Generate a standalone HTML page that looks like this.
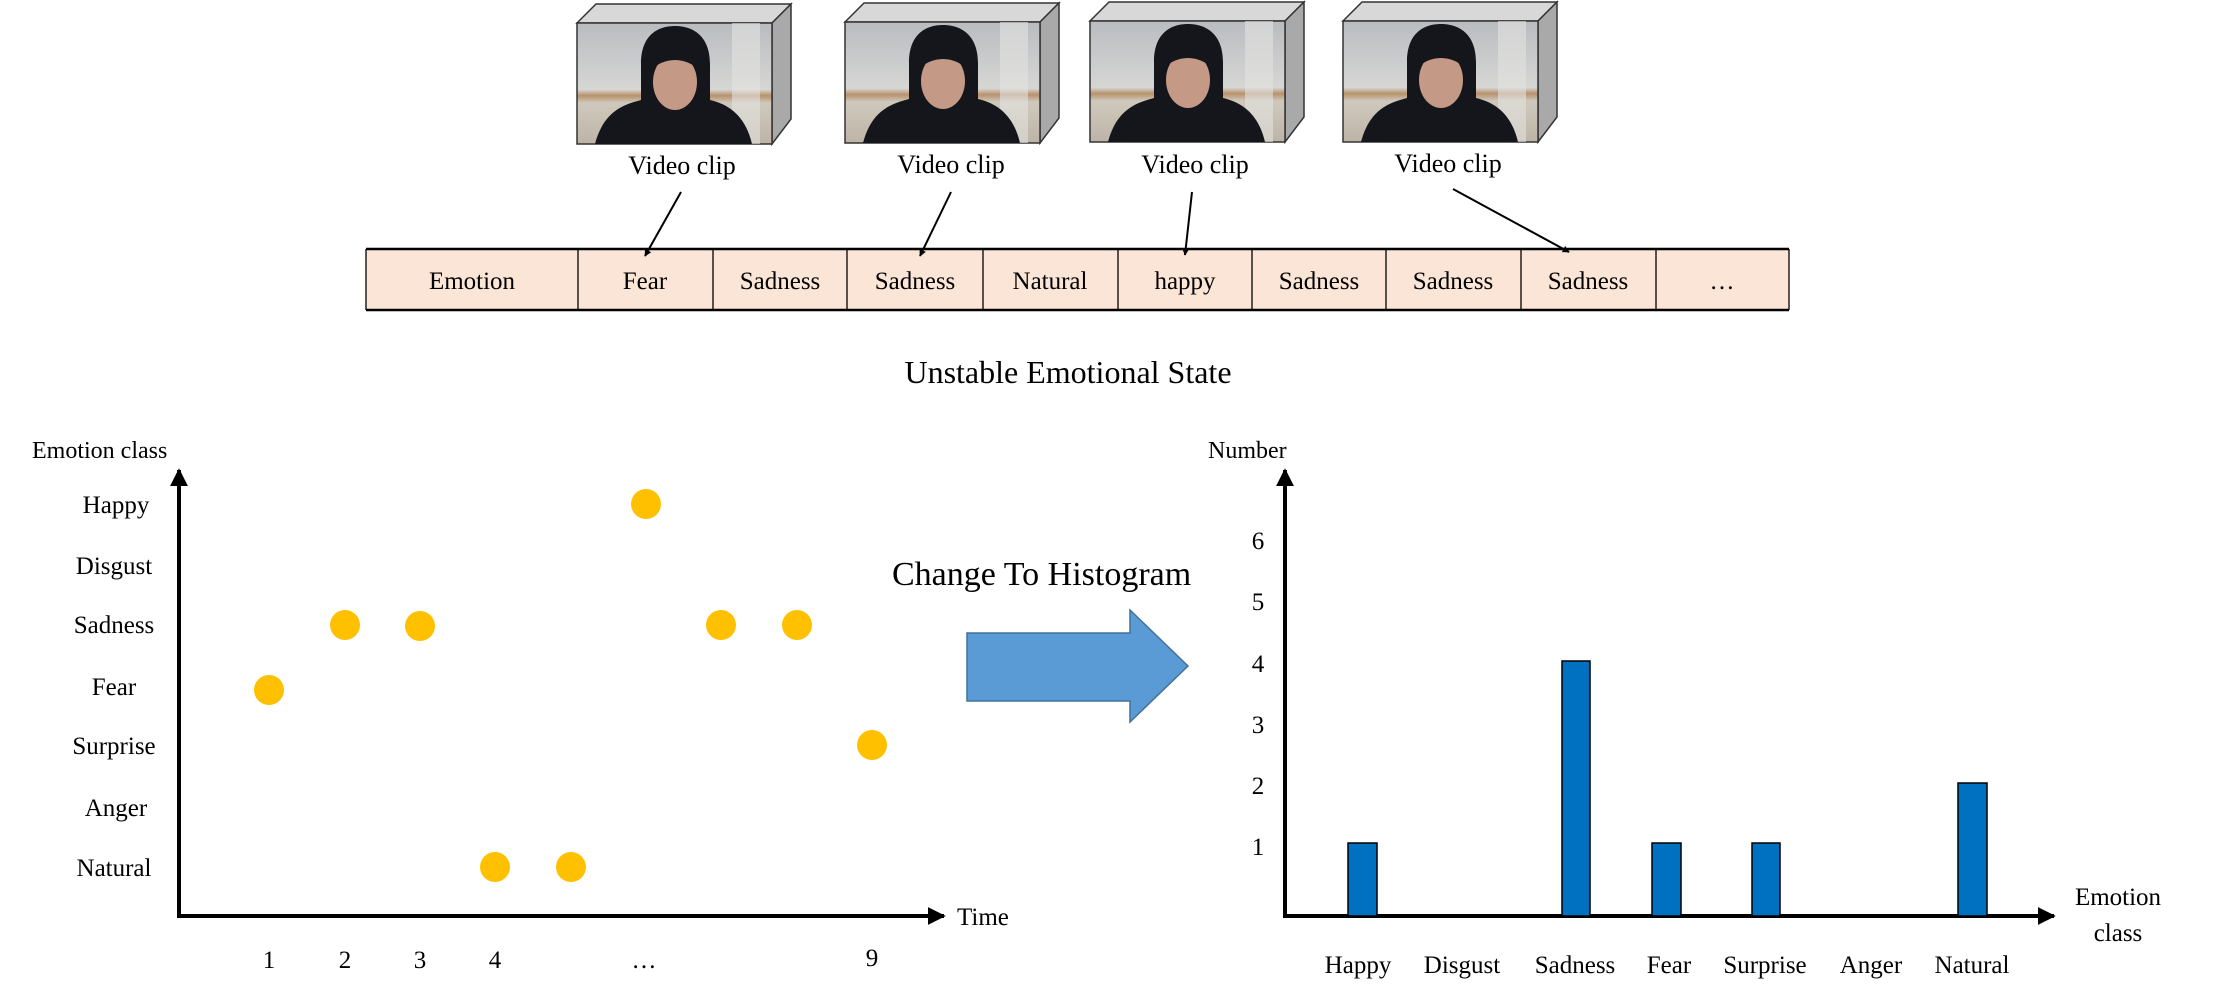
<!DOCTYPE html>
<html><head><meta charset="utf-8"><style>
html,body{margin:0;padding:0;background:#fff}
svg{display:block}
text{font-family:"Liberation Serif","DejaVu Serif",serif;fill:#000}
</style></head><body>
<svg width="2233" height="995" viewBox="0 0 2233 995" xmlns="http://www.w3.org/2000/svg" font-family="Liberation Serif, serif">
<defs>
<marker id="ah" viewBox="0 0 10 10" refX="9" refY="5" markerWidth="7" markerHeight="7" orient="auto" markerUnits="userSpaceOnUse"><path d="M0,0L10,5L0,10z" fill="#000"/></marker>
<marker id="ah2" viewBox="0 0 10 10" refX="9" refY="5" markerWidth="18" markerHeight="18" orient="auto" markerUnits="userSpaceOnUse"><path d="M0,0L10,5L0,10z" fill="#000"/></marker>
<linearGradient id="bg" x1="0" y1="0" x2="0" y2="1"><stop offset="0" stop-color="#b9bcc0"/><stop offset="0.55" stop-color="#d6d6d4"/><stop offset="0.6" stop-color="#b8916c"/><stop offset="0.66" stop-color="#cfc9bd"/><stop offset="1" stop-color="#bdb4a6"/></linearGradient>
<g id="clip">
<polygon points="0,19 19,0 214,0 195,19" fill="#d8d8d8" stroke="#333" stroke-width="1.5"/>
<polygon points="195,19 214,0 214,115 195,140" fill="#a9a9a9" stroke="#333" stroke-width="1.5"/>
<rect x="0" y="19" width="195" height="121" fill="url(#bg)" stroke="#333" stroke-width="1.5"/>
<rect x="155" y="19" width="28" height="121" fill="#e2e2e0" opacity="0.6"/>
<path d="M18,140 C27,105 50,100 64,96 L64,60 C64,30 82,22 98,22 C116,22 133,32 133,60 L133,96 C150,100 168,110 175,140 Z" fill="#15161c"/>
<ellipse cx="98" cy="78" rx="22" ry="28" fill="#c49a86"/>
<path d="M72,60 C74,30 122,30 124,60 L124,68 C110,52 86,52 72,68 Z" fill="#15161c"/>
</g>
</defs>

<use href="#clip" x="577" y="4"/>
<use href="#clip" x="845" y="3"/>
<use href="#clip" x="1090" y="2"/>
<use href="#clip" x="1343" y="2"/>

<g font-size="26" text-anchor="middle">
<text x="682" y="174">Video clip</text>
<text x="951" y="173">Video clip</text>
<text x="1195" y="173">Video clip</text>
<text x="1448" y="172">Video clip</text>
</g>

<rect x="366" y="249" width="1423" height="61" fill="#fbe5d6"/>
<line x1="366" y1="249" x2="1789" y2="249" stroke="#000" stroke-width="2.5"/>
<line x1="366" y1="310" x2="1789" y2="310" stroke="#000" stroke-width="2.5"/>
<g stroke="#000" stroke-width="1.3">
<line x1="366" y1="249" x2="366" y2="310"/><line x1="578" y1="249" x2="578" y2="310"/><line x1="713" y1="249" x2="713" y2="310"/><line x1="847" y1="249" x2="847" y2="310"/><line x1="983" y1="249" x2="983" y2="310"/><line x1="1118" y1="249" x2="1118" y2="310"/><line x1="1252" y1="249" x2="1252" y2="310"/><line x1="1386" y1="249" x2="1386" y2="310"/><line x1="1521" y1="249" x2="1521" y2="310"/><line x1="1656" y1="249" x2="1656" y2="310"/><line x1="1789" y1="249" x2="1789" y2="310"/>
</g>
<g font-size="25" text-anchor="middle">
<text x="472" y="289">Emotion</text><text x="645" y="289">Fear</text><text x="780" y="289">Sadness</text><text x="915" y="289">Sadness</text><text x="1050" y="289">Natural</text><text x="1185" y="289">happy</text><text x="1319" y="289">Sadness</text><text x="1453" y="289">Sadness</text><text x="1588" y="289">Sadness</text><text x="1722" y="289">…</text>
</g>

<g stroke="#000" stroke-width="2" marker-end="url(#ah)">
<line x1="681" y1="192" x2="645" y2="256"/>
<line x1="951" y1="192" x2="920" y2="256"/>
<line x1="1192" y1="192" x2="1185" y2="255"/>
<line x1="1453" y1="189" x2="1569" y2="252"/>
</g>

<text x="1068" y="383" font-size="32" text-anchor="middle">Unstable Emotional State</text>

<line x1="179" y1="916" x2="179" y2="470" stroke="#000" stroke-width="4" marker-end="url(#ah2)"/>
<line x1="177" y1="916" x2="944" y2="916" stroke="#000" stroke-width="4" marker-end="url(#ah2)"/>
<text x="32" y="458" font-size="24">Emotion class</text>
<g font-size="25" text-anchor="middle">
<text x="116" y="513">Happy</text><text x="114" y="574">Disgust</text><text x="114" y="633">Sadness</text><text x="114" y="695">Fear</text><text x="114" y="754">Surprise</text><text x="116" y="816">Anger</text><text x="114" y="876">Natural</text>
<text x="269" y="968">1</text><text x="345" y="968">2</text><text x="420" y="968">3</text><text x="495" y="968">4</text><text x="644" y="968">…</text><text x="872" y="966">9</text>
</g>
<text x="957" y="925" font-size="25">Time</text>
<g fill="#ffc000">
<circle cx="269" cy="690" r="15"/><circle cx="345" cy="625" r="15"/><circle cx="420" cy="626" r="15"/><circle cx="495" cy="867" r="15"/><circle cx="571" cy="867" r="15"/><circle cx="646" cy="504" r="15"/><circle cx="721" cy="625" r="15"/><circle cx="797" cy="625" r="15"/><circle cx="872" cy="745" r="15"/>
</g>

<text x="892" y="585" font-size="34">Change To Histogram</text>
<polygon points="967,633 1130,633 1130,610 1188,666 1130,722 1130,701 967,701" fill="#5b9bd5" stroke="#41719c" stroke-width="1.5"/>

<line x1="1285" y1="916" x2="1285" y2="470" stroke="#000" stroke-width="4" marker-end="url(#ah2)"/>
<line x1="1283" y1="916" x2="2054" y2="916" stroke="#000" stroke-width="4" marker-end="url(#ah2)"/>
<text x="1208" y="458" font-size="24">Number</text>
<g font-size="25" text-anchor="middle">
<text x="1258" y="549">6</text><text x="1258" y="610">5</text><text x="1258" y="672">4</text><text x="1258" y="733">3</text><text x="1258" y="794">2</text><text x="1258" y="855">1</text>
<text x="1358" y="973">Happy</text><text x="1462" y="973">Disgust</text><text x="1575" y="973">Sadness</text><text x="1669" y="973">Fear</text><text x="1765" y="973">Surprise</text><text x="1871" y="973">Anger</text><text x="1972" y="973">Natural</text>
<text x="2118" y="905">Emotion</text><text x="2118" y="941">class</text>
</g>
<g fill="#0070c0" stroke="#000" stroke-width="1.5">
<rect x="1348" y="843" width="29" height="73"/>
<rect x="1562" y="661" width="28" height="255"/>
<rect x="1652" y="843" width="29" height="73"/>
<rect x="1752" y="843" width="28" height="73"/>
<rect x="1958" y="783" width="29" height="133"/>
</g>
</svg>
</body></html>
